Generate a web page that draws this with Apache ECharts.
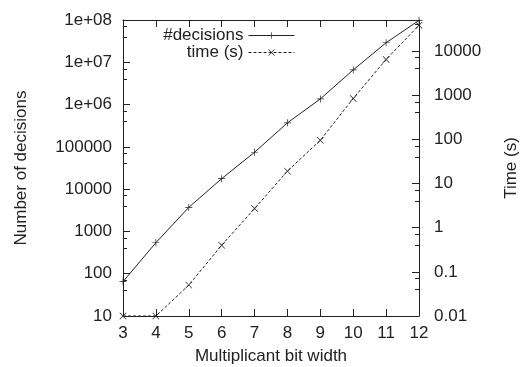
<!DOCTYPE html>
<html>
<head>
<meta charset="utf-8">
<script src="https://cdn.jsdelivr.net/npm/echarts@6/dist/echarts.min.js"></script>
<style>
  html, body { margin: 0; padding: 0; background: #fff; }
  #chart { width: 523px; height: 367px; }
</style>
</head>
<body>
<div id="chart"></div>
<script>
// multiplicant bit width
const bitWidths = [3, 4, 5, 6, 7, 8, 9, 10, 11, 12];
// number of decisions (left axis)
const decisions = [65, 540, 3700, 17700, 74500, 370000, 1360000, 6600000, 29000000, 98000000];
// time in seconds (right axis)
const timeSec = [0.01, 0.01, 0.05, 0.4, 2.7, 19, 95, 840, 6400, 38000];

const FONT = "Liberation Sans";
const INK = "#222";
const FS = 17;

const plusSym = "path://M4.5,0h1v4.5h4.5v1h-4.5v4.5h-1v-4.5h-4.5v-1h4.5z";
const crossSym = "path://M0.7,0L5,4.3L9.3,0L10,0.7L5.7,5L10,9.3L9.3,10L5,5.7L0.7,10L0,9.3L4.3,5L0,0.7z";

function isPow10(v) {
    const l = Math.log10(v);
    return Math.abs(l - Math.round(l)) < 1e-6;
}
function leftLabel(v) {
    if (!isPow10(v)) return "";
    const e = Math.round(Math.log10(v));
    if (e >= 6) return "1e+0" + e;
    return String(Math.round(v));
}
function rightLabel(v) {
    if (!isPow10(v)) return "";
    const e = Math.round(Math.log10(v));
    if (e < 0) return Math.pow(10, e).toFixed(-e);
    return String(Math.round(Math.pow(10, e)));
}

const chart = echarts.init(document.getElementById("chart"));
const axisLine = { show: true, lineStyle: { color: INK, width: 1 } };
const tick = { show: true, inside: true, length: 7, lineStyle: { color: INK } };
const minorTick = { show: true, splitNumber: 3, length: 4, lineStyle: { color: INK } };
const labelText = { fontFamily: FONT, fontSize: FS, color: INK };

chart.setOption({
    animation: false,
    textStyle: { fontFamily: FONT },
    grid: { left: 123, right: 104, top: 20, bottom: 51, outerBoundsMode: "none", containLabel: false },
    legend: {
        top: 22,
        right: 223,
        orient: "vertical",
        align: "right",
        itemWidth: 46,
        itemHeight: 8,
        itemGap: 0,
        lineStyle: { width: 1 },
        textStyle: labelText,
        data: ["#decisions", "time (s)"]
    },
    xAxis: [
        {
            type: "value",
            min: 3, max: 12, interval: 1,
            name: "Multiplicant bit width",
            nameLocation: "middle",
            nameGap: 32,
            nameTextStyle: labelText,
            axisLine: axisLine,
            axisTick: tick,
            axisLabel: Object.assign({ margin: 9 }, labelText),
            splitLine: { show: false }
        },
        {
            type: "value",
            position: "top",
            min: 3, max: 12, interval: 1,
            axisLine: axisLine,
            axisTick: tick,
            axisLabel: { show: false },
            splitLine: { show: false }
        }
    ],
    yAxis: [
        {
            type: "log",
            logBase: 10,
            min: 10, max: 1e8,
            name: "Number of decisions",
            nameLocation: "middle",
            nameGap: 93,
            nameTextStyle: labelText,
            axisLine: axisLine,
            axisTick: tick,
            minorTick: minorTick,
            axisLabel: Object.assign({ margin: 11, formatter: leftLabel }, labelText),
            splitLine: { show: false }
        },
        {
            type: "log",
            logBase: 10,
            min: 0.01, max: 50000,
            position: "right",
            name: "Time (s)",
            nameLocation: "middle",
            nameRotate: 90,
            nameGap: 84,
            nameTextStyle: labelText,
            axisLine: axisLine,
            axisTick: tick,
            minorTick: minorTick,
            axisLabel: Object.assign({ margin: 15, showMaxLabel: false, formatter: rightLabel }, labelText),
            splitLine: { show: false }
        }
    ],
    series: [
        {
            name: "#decisions",
            type: "line",
            yAxisIndex: 0,
            data: bitWidths.map((b, i) => [b, decisions[i]]),
            symbol: plusSym,
            symbolSize: 7,
            showAllSymbol: true,
            lineStyle: { color: INK, width: 1 },
            itemStyle: { color: INK },
            z: 3
        },
        {
            name: "time (s)",
            type: "line",
            yAxisIndex: 1,
            data: bitWidths.map((b, i) => [b, timeSec[i]]),
            symbol: crossSym,
            symbolSize: 7,
            showAllSymbol: true,
            lineStyle: { color: INK, width: 1, type: [3, 2] },
            itemStyle: { color: INK },
            z: 3
        }
    ]
});
</script>
</body>
</html>
